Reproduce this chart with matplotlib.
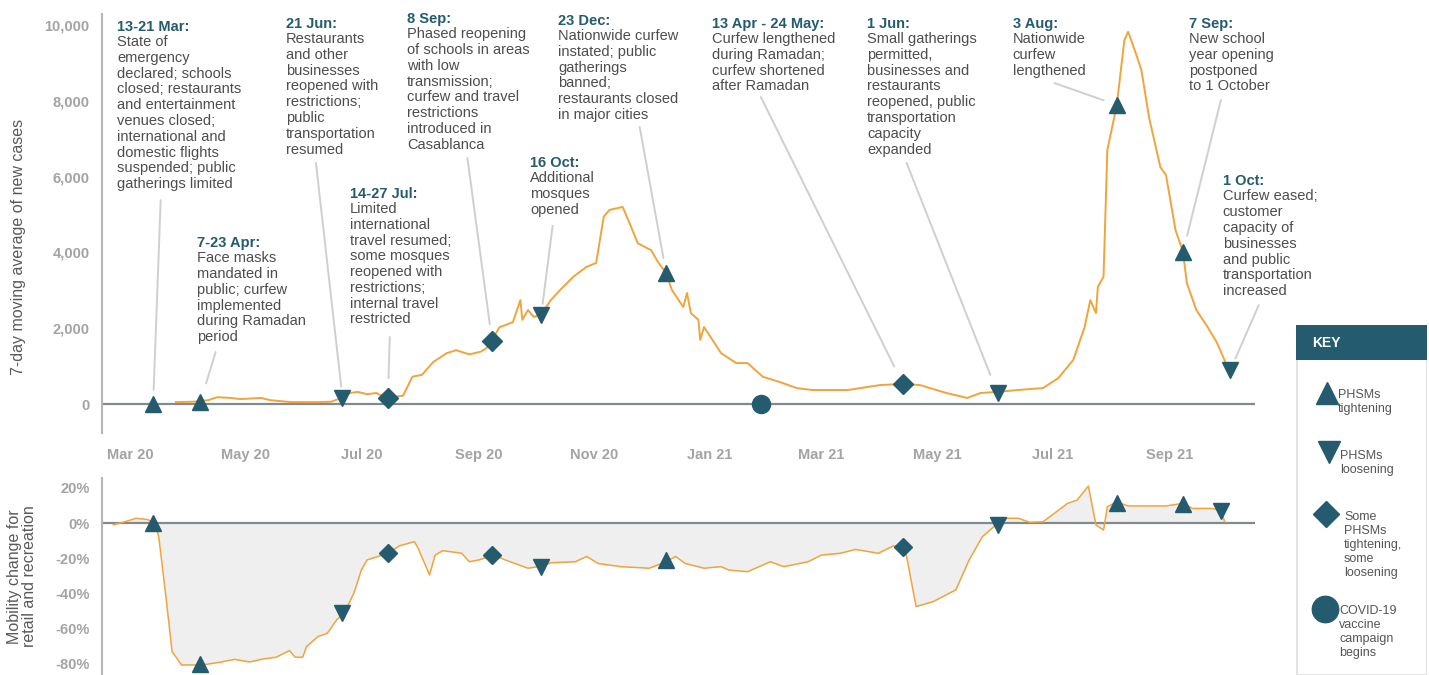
import numpy as np
import pandas as pd
import matplotlib
matplotlib.use("Agg")
import matplotlib.pyplot as plt
import matplotlib.dates as mdates
from matplotlib.ticker import FuncFormatter
from matplotlib.patches import Rectangle

plt.rcParams['font.family'] = ['Liberation Sans', 'DejaVu Sans']

# 7-day moving average of new cases
case_dates = ["2020-03-25", "2020-04-03", "2020-04-11", "2020-04-16", "2020-04-23", "2020-04-28",
              "2020-05-09", "2020-05-14", "2020-05-25", "2020-06-08", "2020-06-15", "2020-06-21",
              "2020-06-25", "2020-06-29", "2020-07-04", "2020-07-09", "2020-07-14", "2020-07-23",
              "2020-07-28", "2020-08-02", "2020-08-08", "2020-08-15", "2020-08-20", "2020-08-27",
              "2020-09-02", "2020-09-05", "2020-09-08", "2020-09-12", "2020-09-15", "2020-09-19",
              "2020-09-23", "2020-09-24", "2020-09-27", "2020-09-30", "2020-10-04", "2020-10-09",
              "2020-10-14", "2020-10-21", "2020-10-28", "2020-11-02", "2020-11-06", "2020-11-09",
              "2020-11-16", "2020-11-19", "2020-11-24", "2020-12-01", "2020-12-05", "2020-12-09",
              "2020-12-12", "2020-12-18", "2020-12-20", "2020-12-22", "2020-12-26", "2020-12-27",
              "2020-12-29", "2021-01-07", "2021-01-15", "2021-01-21", "2021-01-29", "2021-02-07",
              "2021-02-16", "2021-02-24", "2021-03-15", "2021-04-01", "2021-04-13", "2021-04-22",
              "2021-05-06", "2021-05-17", "2021-05-24", "2021-06-02", "2021-06-13", "2021-06-26",
              "2021-07-04", "2021-07-12", "2021-07-18", "2021-07-21", "2021-07-24", "2021-07-25",
              "2021-07-28", "2021-07-30", "2021-08-04", "2021-08-08", "2021-08-10", "2021-08-14",
              "2021-08-17", "2021-08-21", "2021-08-27", "2021-08-30", "2021-09-04", "2021-09-08",
              "2021-09-10", "2021-09-15", "2021-09-21", "2021-09-26", "2021-10-01"]
case_values = [50, 60, 100, 180, 160, 130,
               160, 100, 50, 50, 60, 170,
               290, 320, 260, 290, 160, 220,
               720, 770, 1110, 1340, 1420, 1310,
               1380, 1470, 1690, 2030, 2080, 2160,
               2740, 2220, 2480, 2300, 2350, 2740,
               3010, 3360, 3620, 3720, 4940, 5120,
               5200, 4850, 4240, 4060, 3720, 3450,
               3010, 2560, 2930, 2400, 2220, 1690,
               2030, 1340, 1080, 1080, 720, 580,
               420, 370, 370, 500, 530, 500,
               290, 160, 290, 320, 370, 420,
               680, 1160, 2030, 2740, 2400, 3090,
               3360, 6700, 7890, 9600, 9820, 9260,
               8810, 7570, 6250, 6040, 4590, 4010,
               3190, 2480, 2030, 1610, 1030]

# Mobility change for retail and recreation (%)
mob_dates = ["2020-02-21", "2020-02-27", "2020-03-04", "2020-03-10", "2020-03-14", "2020-03-16",
             "2020-03-20", "2020-03-23", "2020-03-28", "2020-04-08", "2020-04-18", "2020-04-25",
             "2020-05-03", "2020-05-10", "2020-05-17", "2020-05-24", "2020-05-27", "2020-05-31",
             "2020-06-02", "2020-06-08", "2020-06-13", "2020-06-18", "2020-06-22", "2020-06-27",
             "2020-07-01", "2020-07-04", "2020-07-15", "2020-07-21", "2020-07-29", "2020-07-31",
             "2020-08-06", "2020-08-09", "2020-08-13", "2020-08-23", "2020-08-27", "2020-09-01",
             "2020-09-09", "2020-09-15", "2020-09-27", "2020-10-05", "2020-10-09", "2020-10-22",
             "2020-10-28", "2020-11-03", "2020-11-15", "2020-11-30", "2020-12-09", "2020-12-14",
             "2020-12-19", "2020-12-29", "2021-01-07", "2021-01-11", "2021-01-21", "2021-02-02",
             "2021-02-09", "2021-02-22", "2021-03-01", "2021-03-11", "2021-03-19", "2021-03-31",
             "2021-04-08", "2021-04-14", "2021-04-20", "2021-04-29", "2021-05-11", "2021-05-18",
             "2021-05-25", "2021-06-03", "2021-06-07", "2021-06-13", "2021-06-19", "2021-06-26",
             "2021-07-02", "2021-07-09", "2021-07-14", "2021-07-20", "2021-07-24", "2021-07-28",
             "2021-07-30", "2021-08-04", "2021-08-10", "2021-08-30", "2021-09-08", "2021-09-13",
             "2021-09-23", "2021-09-28", "2021-09-30"]
mob_values = [-1, 0.7, 2.7, 2, 0, -8,
              -44, -73, -80.7, -80.7, -79, -77.5,
              -79, -77.3, -76.3, -72.5, -76.3, -76.3,
              -70.3, -64.6, -62.7, -55, -51, -40,
              -26.7, -21, -17.2, -13, -10.6, -14.4,
              -29.5, -18.2, -15.7, -17.2, -22, -21,
              -18.2, -21, -25.7, -24.4, -22.6, -22,
              -19, -23, -24.8, -25.7, -22, -19,
              -23, -25.7, -24.8, -26.7, -27.7, -22,
              -24.8, -22, -18.2, -17.2, -15, -17.2,
              -13, -13.5, -47.5, -44.7, -38, -21,
              -7.8, 0.7, 2.7, 2.7, 0.4, 0.7,
              5.5, 11.2, 13, 21, -1.1, -4,
              9.3, 12, 9.7, 9.7, 11.2, 8.3,
              8.3, 7.4, 0.7]

# policy events
event_kinds = ['^', '^', 'v', 'D', 'D', 'v', '^', 'o', 'D', 'v', '^', '^', 'v']
case_event_dates = ["2020-03-13", "2020-04-07", "2020-06-21", "2020-07-15", "2020-09-08", "2020-10-04",
                    "2020-12-09", "2021-01-28", "2021-04-13", "2021-06-02", "2021-08-04", "2021-09-08",
                    "2021-10-03"]
case_event_values = [0, 50, 170, 170, 1670, 2350, 3450, 0, 530, 290, 7890, 4010, 900]
mob_event_kinds = ['^', '^', 'v', 'D', 'D', 'v', '^', 'D', 'v', '^', '^', 'v']
mob_event_dates = ["2020-03-13", "2020-04-07", "2020-06-21", "2020-07-15", "2020-09-08", "2020-10-04",
                   "2020-12-09", "2021-04-13", "2021-06-02", "2021-08-04", "2021-09-08", "2021-09-28"]
mob_event_values = [0, -80, -51, -17, -18, -25, -21, -13.5, -1, 11.5, 11, 7]

note_headers = ["13-21 Mar:", "7-23 Apr:", "21 Jun:", "14-27 Jul:", "8 Sep:", "16 Oct:",
                "23 Dec:", "13 Apr - 24 May:", "1 Jun:", "3 Aug:", "7 Sep:", "1 Oct:"]
note_bodies = [
    "State of\nemergency\ndeclared; schools\nclosed; restaurants\nand entertainment\nvenues closed;\n"
    "international and\ndomestic flights\nsuspended; public\ngatherings limited",
    "Face masks\nmandated in\npublic; curfew\nimplemented\nduring Ramadan\nperiod",
    "Restaurants\nand other\nbusinesses\nreopened with\nrestrictions;\npublic\ntransportation\nresumed",
    "Limited\ninternational\ntravel resumed;\nsome mosques\nreopened with\nrestrictions;\ninternal travel\nrestricted",
    "Phased reopening\nof schools in areas\nwith low\ntransmission;\ncurfew and travel\nrestrictions\n"
    "introduced in\nCasablanca",
    "Additional\nmosques\nopened",
    "Nationwide curfew\ninstated; public\ngatherings\nbanned;\nrestaurants closed\nin major cities",
    "Curfew lengthened\nduring Ramadan;\ncurfew shortened\nafter Ramadan",
    "Small gatherings\npermitted,\nbusinesses and\nrestaurants\nreopened, public\ntransportation\n"
    "capacity\nexpanded",
    "Nationwide\ncurfew\nlengthened",
    "New school\nyear opening\npostponed\nto 1 October",
    "Curfew eased;\ncustomer\ncapacity of\nbusinesses\nand public\ntransportation\nincreased",
]
note_x = ["2020-02-23", "2020-04-05", "2020-05-22", "2020-06-25", "2020-07-25", "2020-09-28",
          "2020-10-13", "2021-01-02", "2021-03-25", "2021-06-10", "2021-09-11", "2021-09-29"]
note_y = [9950, 4250, 10030, 5550, 10160, 6360, 10110, 10030, 10030, 10030, 10030, 5880]
note_event = [0, 1, 2, 3, 4, 5, 6, 8, 9, 10, 11, 12]
leader_x = ["2020-03-17", "2020-04-15", "2020-06-07", "2020-07-16", "2020-08-26", "2020-10-10",
            "2020-11-25", "2021-01-28", "2021-04-15", "2021-07-02", "2021-09-28", "2021-10-18"]
leader_y = [5380, 1370, 6360, 1770, 6490, 4700, 7310, 8100, 6360, 8470, 8020, 2610]
leader_gap = [10, 14, 8, 14, 12, 8, 11, 14, 14, 10, 12, 9]

key_labels = ["PHSMs\ntightening", "PHSMs\nloosening", "Some\nPHSMs\ntightening,\nsome\nloosening",
              "COVID-19\nvaccine\ncampaign\nbegins"]
key_kinds = ['^', 'v', 'D', 'o']

teal = '#245b6f'
orange = '#f0a43c'
grey_txt = '#4d4d4d'
tick_grey = '#a3a3a3'
zero_grey = '#808a90'
marker_size = {'^': 12, 'v': 12, 'D': 10, 'o': 13}

fig = plt.figure(figsize=(14.29, 6.75), dpi=100)
W, H = 1429, 675
ax1 = fig.add_axes([102 / W, 1 - 433 / H, 1153 / W, 419 / H])
ax2 = fig.add_axes([102 / W, 0, 1153 / W, 197 / H])

xlo, xhi = pd.Timestamp("2020-02-15"), pd.Timestamp("2021-10-16")
cd = pd.to_datetime(case_dates)
md = pd.to_datetime(mob_dates)

for ax in (ax1, ax2):
    ax.set_xlim(xlo, xhi)
    for s in ['top', 'right', 'bottom']:
        ax.spines[s].set_visible(False)
    ax.spines['left'].set_color('#b5b5b5')
    ax.spines['left'].set_linewidth(1.5)
    ax.axhline(0, color=zero_grey, lw=1.6, zorder=2)

# top panel
ax1.plot(cd, case_values, color=orange, lw=1.4, zorder=3)
for k, d, v in zip(event_kinds, case_event_dates, case_event_values):
    ax1.plot(pd.Timestamp(d), v, marker=k, ms=marker_size[k], color=teal, mec=teal, ls='none', zorder=5)
ax1.set_ylim(-765, 10290)
ax1.set_yticks([0, 2000, 4000, 6000, 8000, 10000])
ax1.yaxis.set_major_formatter(FuncFormatter(lambda v, p: f"{int(v):,}"))
ax1.xaxis.set_major_locator(mdates.MonthLocator(bymonth=[1, 3, 5, 7, 9, 11]))
ax1.xaxis.set_major_formatter(mdates.DateFormatter('%b %y'))
ax1.tick_params(axis='x', length=0, pad=11, labelcolor=tick_grey, labelsize=10.5)
ax1.tick_params(axis='y', length=0, pad=9, labelcolor=tick_grey, labelsize=10.5)
for lab in ax1.get_xticklabels() + ax1.get_yticklabels():
    lab.set_fontweight('bold')
ax1.set_ylabel("7-day moving average of new cases", fontsize=11.5, color='#595959')
ax1.yaxis.set_label_coords(-0.066, 0.445)

for i in range(len(note_headers)):
    x = pd.Timestamp(note_x[i])
    ax1.annotate(note_headers[i], (x, note_y[i]), xytext=(0, 0), textcoords='offset points',
                 ha='left', va='center', fontsize=10.5, fontweight='bold', color=teal, zorder=6)
    ax1.annotate(note_bodies[i], (x, note_y[i]), xytext=(0, -6), textcoords='offset points',
                 ha='left', va='top', fontsize=10.5, color=grey_txt, linespacing=1.16, zorder=6)
    e = note_event[i]
    ax1.annotate('', xy=(pd.Timestamp(case_event_dates[e]), case_event_values[e]),
                 xytext=(pd.Timestamp(leader_x[i]), leader_y[i]),
                 arrowprops=dict(arrowstyle='-', color='#cfcfcf', lw=1.4,
                                 shrinkA=0, shrinkB=leader_gap[i]), zorder=1)

# bottom panel
ax2.fill_between(md, mob_values, 0, color='#efefef', zorder=1, lw=0)
ax2.plot(md, mob_values, color=orange, lw=1.1, zorder=3)
for k, d, v in zip(mob_event_kinds, mob_event_dates, mob_event_values):
    ax2.plot(pd.Timestamp(d), v, marker=k, ms=marker_size[k] - 1, color=teal, mec=teal, ls='none', zorder=5)
ax2.set_ylim(-86.4, 25.6)
ax2.set_yticks([20, 0, -20, -40, -60, -80])
ax2.yaxis.set_major_formatter(FuncFormatter(lambda v, p: f"{int(v)}%"))
ax2.set_xticks([])
ax2.tick_params(axis='y', length=0, pad=9, labelcolor=tick_grey, labelsize=10.5)
for lab in ax2.get_yticklabels():
    lab.set_fontweight('bold')
ax2.set_ylabel("Mobility change for\nretail and recreation", fontsize=11.5, color='#595959',
               linespacing=1.0)
ax2.yaxis.set_label_coords(-0.056, 0.5)

# key box
axk = fig.add_axes([1296 / W, 0, 131 / W, 350 / H])
axk.set_xlim(0, 131)
axk.set_ylim(350, 0)
axk.axis('off')
axk.add_patch(Rectangle((0.5, 0), 130, 349.5, fill=False, ec='#dedede', lw=1.2))
axk.add_patch(Rectangle((0, 0), 131, 35, color='#255b6e', lw=0))
axk.text(16, 18, "KEY", color='white', fontweight='bold', fontsize=10, va='center', ha='left')
key_mark_xy = [(31, 68), (33, 127), (30, 189), (29, 284)]
key_text_xy = [(42, 77), (44, 138), (48, 220), (43, 307)]
key_ms = {'^': 16, 'v': 16, 'D': 13, 'o': 19}
for k, lab, (mx, my), (tx, ty) in zip(key_kinds, key_labels, key_mark_xy, key_text_xy):
    axk.plot(mx, my, marker=k, ms=key_ms[k], color=teal, ls='none')
    axk.text(tx, ty, lab, fontsize=9, color='#555555', va='center', ha='left', linespacing=1.2)

fig.savefig("out.png", dpi=100)
